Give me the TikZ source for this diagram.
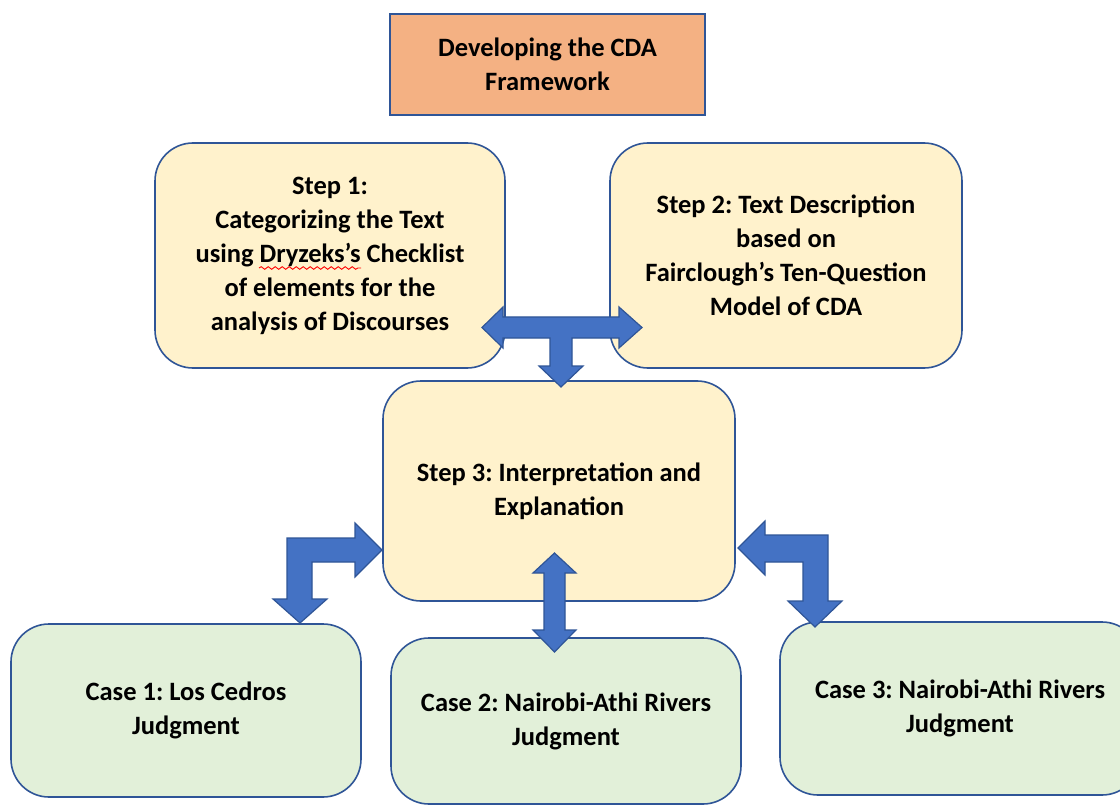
\documentclass[tikz,border=0pt]{standalone}
\usepackage{fontspec}
\setmainfont{Carlito}
\usetikzlibrary{decorations.pathmorphing}
\definecolor{bord}{HTML}{2F5597}
\definecolor{titlefill}{HTML}{F4B183}
\definecolor{stepfill}{HTML}{FFF2CC}
\definecolor{casefill}{HTML}{E2F0D9}
\definecolor{arrfill}{HTML}{4472C4}
\tikzset{
  boxbase/.style={draw=bord, line width=1.6pt, align=center, inner sep=0pt,
     font=\fontsize{26.5}{34}\selectfont\bfseries\frenchspacing},
  titlebox/.style={boxbase, fill=titlefill, line width=2pt},
  stepbox/.style={boxbase, fill=stepfill, rounded corners=38pt},
  casebox/.style={boxbase, fill=casefill, rounded corners=38pt},
  blockarrow/.style={fill=arrfill, draw=bord, line width=1.2pt, line join=miter},
}
\begin{document}
\begin{tikzpicture}[x=1pt,y=-1pt]
\useasboundingbox (0,0) rectangle (1120,805);
\fill[white] (0,0) rectangle (1120,805);
% title
\node[titlebox, minimum width=315, minimum height=101] (title) at (547.5,64.5)
  {Developing the CDA\\Framework};
% steps
\node[stepbox, minimum width=350, minimum height=225] (s1) at (330,255.5)
  {Step 1:\\Categorizing the Text\\using Dryzeks’s Checklist\\of elements for the\\analysis of Discourses};
\node[stepbox, minimum width=352, minimum height=225] (s2) at (786,255.5)
  {Step 2: Text Description\\based on\\Fairclough’s Ten-Question\\Model of CDA};
\node[stepbox, minimum width=352, minimum height=220] (s3) at (559,491)
  {Step 3: Interpretation and\\Explanation};
% cases
\node[casebox, minimum width=350, minimum height=173] (c1) at (186,710.5)
  {Case 1: Los Cedros\\Judgment};
\node[casebox, minimum width=350, minimum height=166] (c2) at (566,721)
  {Case 2: Nairobi-Athi Rivers\\Judgment};
\node[casebox, minimum width=360, minimum height=173] (c3) at (960,708.5)
  {Case 3: Nairobi-Athi Rivers\\Judgment};
% spell-check squiggle
\draw[red, line width=0.9pt, decorate, decoration={snake, amplitude=1.3pt, segment length=7pt}]
  (259,268) -- (361,268);
% T arrow between step 1, step 2 and step 3
\draw[blockarrow] (482,327.5) -- (503,307) -- (503,317) -- (619,317) -- (619,307)
  -- (642,327.5) -- (619,348) -- (619,338) -- (572,338) -- (572,366) -- (583,366)
  -- (561,387) -- (539,366) -- (550,366) -- (550,338) -- (503,338) -- (503,348) -- cycle;
% left bent arrow (step 3 <-> case 1)
\draw[blockarrow] (382,550) -- (355,523) -- (355,538) -- (287,538) -- (287,599)
  -- (273,599) -- (300,623) -- (327,599) -- (312,599) -- (312,562) -- (355,562)
  -- (355,577) -- cycle;
% right bent arrow (step 3 <-> case 3)
\draw[blockarrow] (738,548) -- (765,521) -- (765,535) -- (828,535) -- (828,601)
  -- (842,601) -- (815,627) -- (788,601) -- (803,601) -- (803,562) -- (765,562)
  -- (765,575) -- cycle;
% middle double arrow (step 3 <-> case 2)
\draw[blockarrow] (554.5,553) -- (576,573) -- (565,573) -- (565,630) -- (576,630)
  -- (554.5,652) -- (533,630) -- (544,630) -- (544,573) -- (533,573) -- cycle;
\end{tikzpicture}
\end{document}
